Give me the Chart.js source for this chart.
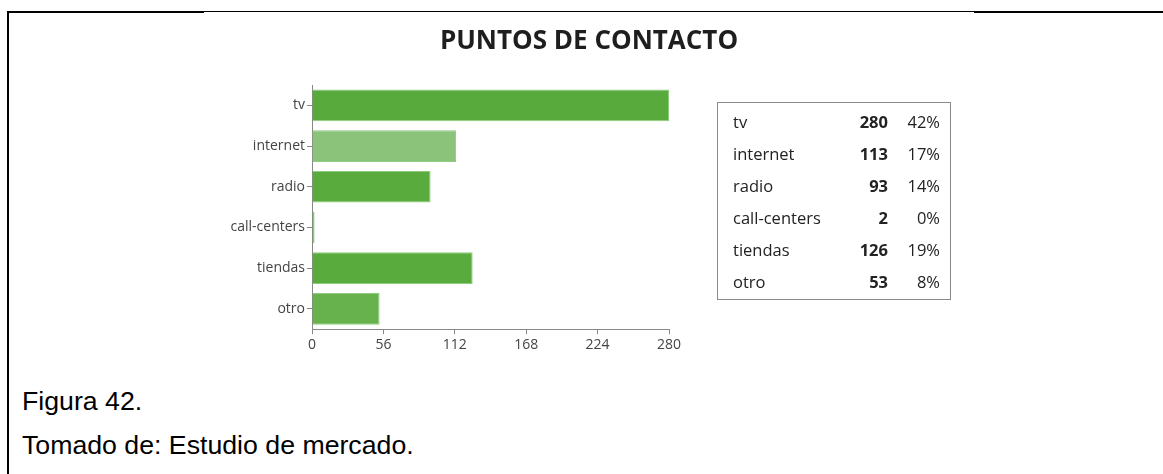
<!DOCTYPE html>
<html lang="es">
<head>
<meta charset="UTF-8">
<title>Puntos de contacto</title>
<script src="https://cdn.jsdelivr.net/npm/chart.js"></script>
<style>
  body { margin: 0; background: #fff; width: 1163px; height: 474px; position: relative; overflow: hidden; }
  .line-top-l { position: absolute; left: 7px; top: 11px; width: 197px; height: 2px; background: #000; }
  .line-top-m { position: absolute; left: 204px; top: 11px; width: 770px; height: 1px; background: #000; }
  .line-top-r { position: absolute; left: 974px; top: 11px; width: 189px; height: 2px; background: #000; }
  .line-left { position: absolute; left: 7px; top: 11px; width: 2px; height: 463px; background: #000; }
  #titulo { position: absolute; left: 203px; top: 22px; width: 772px; text-align: center;
            font-family: "Open Sans", sans-serif; font-weight: bold; font-size: 26px; line-height: 34px; color: #1e1e1e; }
  #wrap { position: absolute; left: 203px; top: 13px; width: 770px; height: 355px; }
  #tabla { position: absolute; left: 717px; top: 102px; width: 232px; height: 196px; border: 1px solid #8a8a8a;
           font-family: "Open Sans", sans-serif; font-size: 16.5px; color: #222; }
  .fila { position: absolute; left: 0; width: 232px; height: 22px; line-height: 22px; }
  .fila span { position: absolute; top: 0; }
  .fila .nom { left: 15px; }
  .fila .val { right: 62px; font-weight: bold; }
  .fila .pct { right: 10px; }
  .cap { position: absolute; left: 22px; font-family: "Liberation Sans", Arial, sans-serif; font-size: 26.7px; color: #000; white-space: nowrap; }
</style>
</head>
<body>
<div class="line-top-l"></div><div class="line-top-m"></div><div class="line-top-r"></div><div class="line-left"></div>

<div id="wrap"><canvas id="chart"></canvas></div>
<div id="titulo">PUNTOS DE CONTACTO</div>
<div id="tabla"></div>

<div class="cap" style="top:386px">Figura 42.</div>
<div class="cap" style="top:430px">Tomado de: Estudio de mercado.</div>

<script>
// datos
const categorias = ["tv", "internet", "radio", "call-centers", "tiendas", "otro"];
const valores = [280, 113, 93, 2, 126, 53];
const porcentajes = ["42%", "17%", "14%", "0%", "19%", "8%"];
const ticksX = [0, 56, 112, 168, 224, 280];

const colores = ["#58aa3d", "#8cc37a", "#5aab3e", "#5aab3e", "#5aab3e", "#68b24d"];

// tabla de la derecha
const tabla = document.getElementById("tabla");
categorias.forEach((c, i) => {
  const f = document.createElement("div");
  f.className = "fila";
  f.style.top = (8 + i * 32) + "px";
  f.innerHTML = '<span class="nom">' + c + '</span><span class="val">' + valores[i] + '</span><span class="pct">' + porcentajes[i] + '</span>';
  tabla.appendChild(f);
});

new Chart(document.getElementById("chart"), {
  type: "bar",
  data: {
    labels: categorias,
    datasets: [{
      data: valores,
      backgroundColor: colores,
      borderColor: "rgba(130,200,110,0.9)",
      borderWidth: 1,
      barPercentage: 0.78,
      categoryPercentage: 1
    }]
  },
  options: {
    indexAxis: "y",
    responsive: true,
    maintainAspectRatio: false,
    animation: false,
    layout: { padding: { left: 0, right: 304, top: 72, bottom: 13 } },
    plugins: {
      legend: { display: false },
      tooltip: { enabled: false }
    },
    scales: {
      x: {
        min: 0,
        max: 280,
        afterBuildTicks: (s) => { s.ticks = ticksX.map(v => ({ value: v })); },
        grid: { drawOnChartArea: false, drawTicks: true, tickLength: 5, color: "#888" },
        border: { display: true, color: "#888" },
        ticks: { color: "#444", padding: 2, font: { family: "'Open Sans'", size: 14 } }
      },
      y: {
        afterFit: (s) => { s.width = 109; },
        grid: { drawOnChartArea: false, drawTicks: true, tickLength: 5, color: "#888", offset: false },
        border: { display: true, color: "#888" },
        ticks: { color: "#444", padding: 2, font: { family: "'Open Sans'", size: 14 } }
      }
    }
  }
});
</script>
</body>
</html>
